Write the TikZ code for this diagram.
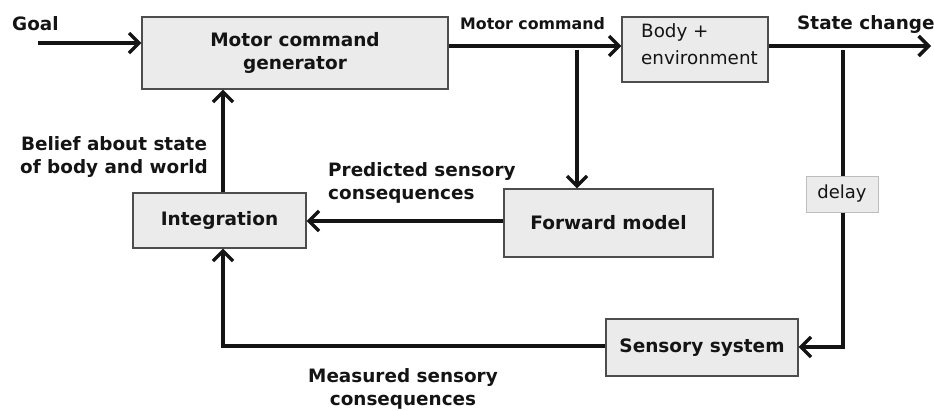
\documentclass[tikz,border=0pt]{standalone}
\usepackage{fontspec}
\setmainfont{DejaVu Sans}
\usetikzlibrary{arrows.meta}
\definecolor{boxfill}{HTML}{EBEBEB}
\definecolor{boxline}{HTML}{4D4D4D}
\definecolor{delayline}{HTML}{BDBDBD}
\definecolor{ink}{HTML}{141414}
\begin{document}
\begin{tikzpicture}[x=1pt,y=-1pt,
  blk/.style={draw=boxline, line width=1.2pt, fill=boxfill, inner sep=0pt, text=ink,
    font=\bfseries\fontsize{18.5}{23}\selectfont, align=center},
  lbl/.style={inner sep=0pt, text=ink, font=\bfseries\fontsize{18.4}{23}\selectfont},
  conn/.style={draw=ink, line width=3.4pt},
  tip/.style={-{Straight Barb[length=10pt,width=20pt]}}
]
\useasboundingbox (0,0) rectangle (934,410);

% blocks
\node[blk, minimum width=306pt, minimum height=72pt] (gen) at (295,53) {Motor command\\generator};
\node[blk, minimum width=146pt, minimum height=65pt] (body) at (695,49.5) {};
\node[lbl, font=\fontsize{18.3}{27}\selectfont, align=left, anchor=west] (bodytxt) at (641,44.5) {Body +\\environment};
\node[blk, minimum width=173pt, minimum height=55pt] (integ) at (219.5,220.5) {Integration};
\node[blk, minimum width=209pt, minimum height=68pt] (fwd) at (608.5,223) {Forward model};
\node[blk, draw=delayline, line width=1pt, font=\fontsize{18}{20}\selectfont, minimum width=72pt, minimum height=36pt] (delay) at (842,194) {delay};
\node[blk, minimum width=192pt, minimum height=57pt] (sens) at (702,347.5) {Sensory system};

% signal labels
\node[lbl, anchor=base west] (goal) at (12,30) {Goal};
\node[lbl, font=\bfseries\fontsize{15.8}{18}\selectfont, anchor=base west] (mclbl) at (460,29) {Motor command};
\node[lbl, anchor=base west] (sclbl) at (797,29) {State change};
\node[lbl, align=center] (belief) at (114,157) {Belief about state\\of body and world};
\node[lbl, align=left, anchor=west] (pred) at (328,183) {Predicted sensory\\consequences};
\node[lbl, align=center] (meas) at (403,389) {Measured sensory\\consequences};

% routing points
\coordinate (g0) at (38,43);
\coordinate (topy) at (0,46);
\coordinate (fork1) at (577,50);
\coordinate (fork2) at (843,50);
\coordinate (outend) at (931,46);
\coordinate (predy) at (0,221);
\coordinate (corner1) at (843,347);
\coordinate (corner2) at (223,346);

% connectors
\draw[conn,tip] (g0) -- (g0 -| gen.west);
\draw[conn,tip] (gen.east |- topy) -- (body.west |- topy);
\draw[conn,tip] (body.east |- topy) -- (outend);
\draw[conn,tip] (fork1) -- (fork1 |- fwd.north);
\draw[conn] (fork2) -- (delay.north -| fork2);
\draw[conn,tip] (delay.south -| fork2) -- (corner1) -- (sens.east |- corner1);
\draw[conn,tip] (fwd.west |- predy) -- (integ.east |- predy);
\draw[conn,tip] (sens.west |- corner2) -- (corner2) -- (corner2 |- integ.south);
\draw[conn,tip] (integ.north -| corner2) -- (gen.south -| corner2);
\end{tikzpicture}
\end{document}
